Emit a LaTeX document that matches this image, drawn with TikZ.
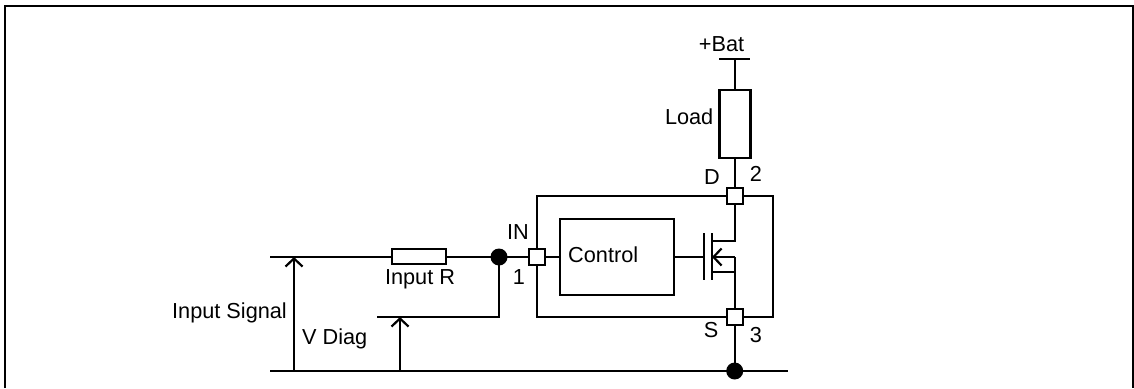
\documentclass[tikz,border=0pt]{standalone}
\usepackage{fontspec}
\setmainfont{Liberation Sans}
\usetikzlibrary{arrows.meta}
\tikzset{
  wire/.style={line width=2.2pt,black},
  barb/.style={wire,-{Straight Barb[length=8pt,width=17pt,line width=2.2pt]}},
  pin/.style={draw=black,fill=white,line width=2.2pt,minimum size=16pt,inner sep=0pt},
  dot/.style={circle,fill=black,minimum size=17pt,inner sep=0pt},
  part/.style={draw=black,fill=white,inner sep=0pt},
  lbl/.style={font=\fontsize{21.7}{24}\selectfont,inner sep=0pt,text=black}
}
\begin{document}
\begin{tikzpicture}[x=1pt,y=-1pt]
\useasboundingbox (0,0) rectangle (1134,388);
\draw[line width=2.4pt] (5,388) -- (5,6) -- (1133.5,6) -- (1133.5,388);

% coordinates
\coordinate (batL) at (719,59);
\coordinate (batR) at (750,59);
\coordinate (bat) at (734.7,59);
\coordinate (inL) at (270,257);
\coordinate (gndL) at (270,371);
\coordinate (gndR) at (788,371);
\coordinate (sigB) at (294,371);
\coordinate (sigT) at (294,257);
\coordinate (diagB) at (400,371);
\coordinate (diagT) at (400,317);
\coordinate (diagL) at (377,317);
\coordinate (diagC) at (499,317);
\coordinate (boxTL) at (537,196);
\coordinate (boxBL) at (537,317);
\coordinate (boxTR) at (773,196);
\coordinate (boxBR) at (773,317);
\coordinate (gate) at (704,257);
\coordinate (plateT) at (704,233);
\coordinate (plateB) at (704,280);
\coordinate (chT) at (712,233);
\coordinate (chB) at (712,280);
\coordinate (chD) at (712,241);
\coordinate (chS) at (712,272);
\coordinate (chM) at (712,257);
\coordinate (wD) at (734.7,241);
\coordinate (wS) at (734.7,272);
\coordinate (wM) at (734.7,257);

% wires
\draw[wire] (batL) -- (batR);
\draw[wire] (inL) -- (537,257);
\draw[wire] (gndL) -- (gndR);
\draw[wire] (bat) -- (734.7,196);
\draw[wire] (boxBL) -- (boxTL) -- (boxTR) -- (boxBR) -- cycle;
\draw[wire] (diagL) -- (diagC) -- (499,257);
\draw[wire] (537,257) -- (560,257);
\draw[barb] (sigB) -- (sigT);
\draw[barb] (diagB) -- (diagT);
\draw[wire] (734.7,196) -- (wD) -- (chD);
\draw[wire] (chT) -- (chB);
\draw[wire] (plateT) -- (plateB);
\draw[wire] (gate) -- (673.7,257);
\draw[barb] (wM) -- (chM);
\draw[wire] (wM) -- (wS) -- (chS);
\draw[wire] (wS) -- (734.7,371);

% parts
\node[part,line width=2.9pt,minimum width=31pt,minimum height=68pt] (load) at (734.7,124) {};
\node[part,line width=2.2pt,minimum width=54pt,minimum height=15pt] (rin) at (419,256.5) {};
\node[part,line width=2.2pt,minimum width=113.7pt,minimum height=75.7pt] (ctrl) at (616.8,257) {};
\node[pin] (pinIN) at (537,257) {};
\node[pin] (pinD) at (734.7,196) {};
\node[pin] (pinS) at (734.7,317) {};
\node[dot] (dotA) at (499,257) {};
\node[dot] (dotB) at (734.7,371) {};

% labels
\node[lbl,anchor=base] (tBat) at (721.5,51) {+Bat};
\node[lbl,anchor=base east] (tLoad) at (713.5,124) {Load};
\node[lbl,anchor=base] (tD) at (712,184) {D};
\node[lbl,anchor=base] (t2) at (756,181) {2};
\node[lbl,anchor=base] (tIN) at (518,239) {IN};
\node[lbl,anchor=base] (t1) at (519,284) {1};
\node[lbl,anchor=base west] (tCtl) at (568,262) {Control};
\node[lbl,anchor=base] (tR) at (420,284) {Input R};
\node[lbl,anchor=base west] (tSig) at (172,318) {Input Signal};
\node[lbl,anchor=base west] (tDiag) at (302,344) {V Diag};
\node[lbl,anchor=base] (tS) at (711,337) {S};
\node[lbl,anchor=base] (t3) at (756,342) {3};
\end{tikzpicture}
\end{document}
